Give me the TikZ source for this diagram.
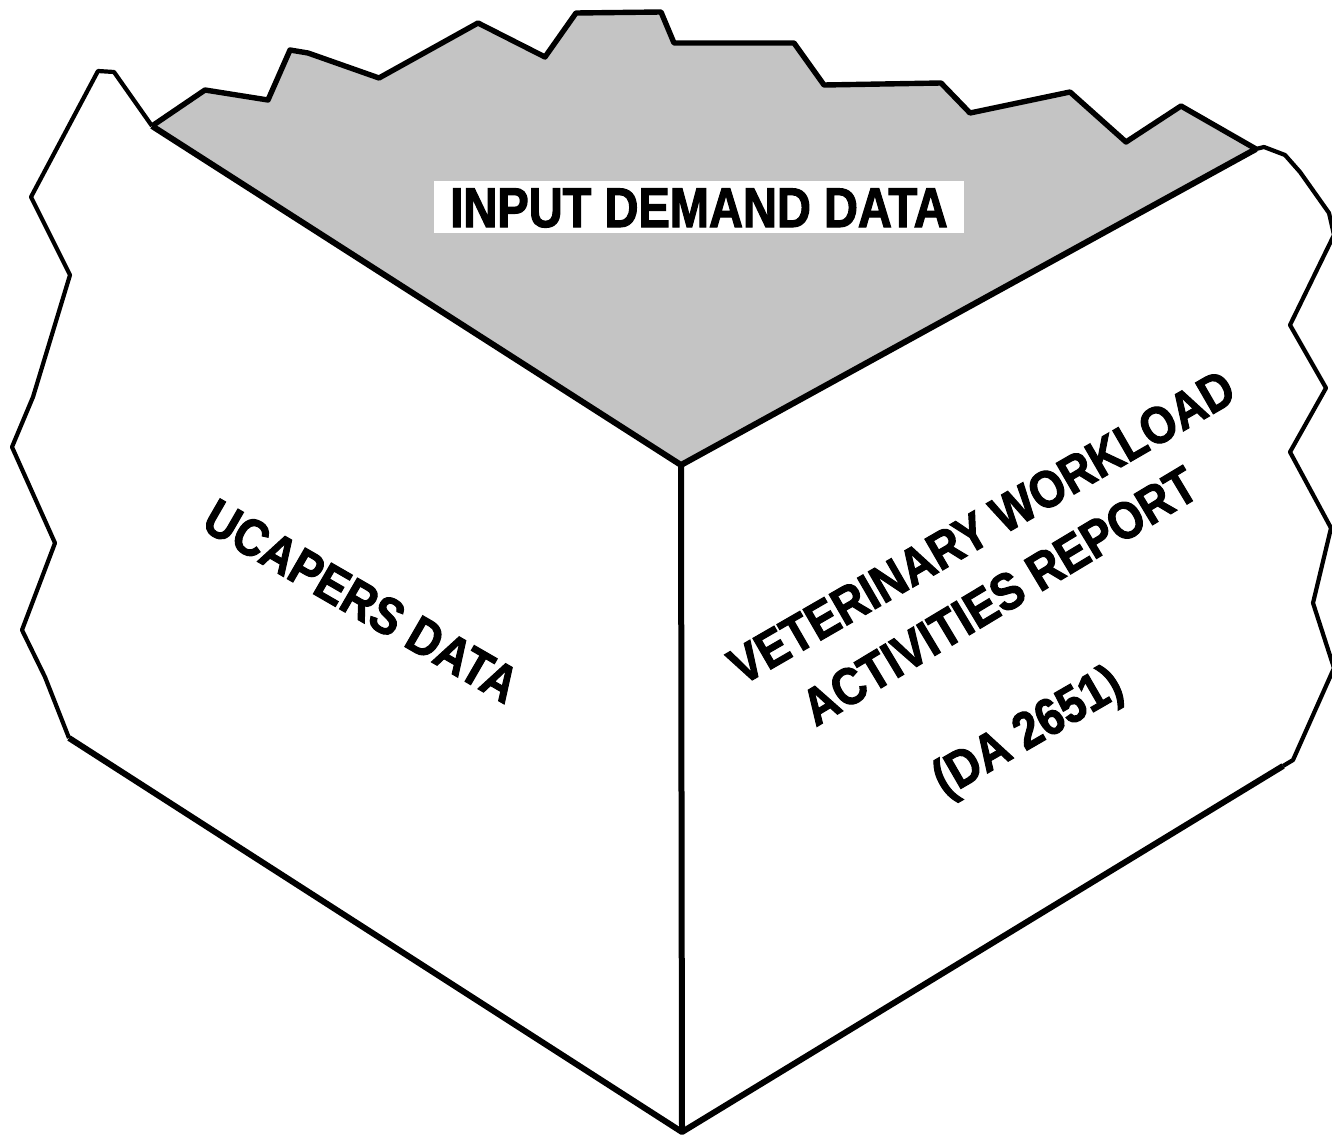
\documentclass[tikz,border=0pt]{standalone}
\usepackage{fontspec}
\setmainfont{Liberation Sans}[FakeStretch=0.84,FakeBold=2]
\newfontfamily\sidefont{Liberation Sans}[FakeStretch=0.87,FakeBold=2]
\definecolor{screen}{gray}{0.77}
\tikzset{
  facelabel/.style={font=\fontsize{28}{34}\selectfont\bfseries,inner sep=0pt,text height=20pt,text depth=0pt,align=center},
  sidelabel/.style={facelabel,font=\sidefont\fontsize{26}{32}\selectfont\bfseries,text height=19pt},
  rimline/.style={line width=2.1pt,line join=round},
  foldline/.style={line width=3pt,line join=round}
}
\begin{document}
\begin{tikzpicture}[x=0.5pt,y=-0.5pt]
    \useasboundingbox (0,0) rectangle (1332,1135);
    \coordinate (apex) at (681,465);
    \coordinate (foot) at (682,1132);
    \coordinate (L) at (152,126);
    \coordinate (R) at (1256,149);
    % shaded top face
    \fill[screen] (L) -- (205,90) -- (268,100) -- (290,50) -- (308,53) -- (379,78) -- (478,23) -- (545,57) -- (576,13) -- (661,12) -- (674,43) -- (794,43) -- (824,85) -- (941,83) -- (970,113) -- (1070,92) -- (1126,142) -- (1181,106) -- (R) -- (apex) -- cycle;
    \draw[line width=2.7pt,line join=round] (L) -- (205,90) -- (268,100) -- (290,50) -- (308,53) -- (379,78) -- (478,23) -- (545,57) -- (576,13) -- (661,12) -- (674,43) -- (794,43) -- (824,85) -- (941,83) -- (970,113) -- (1070,92) -- (1126,142) -- (1181,106) -- (R);
    % torn sides
    \draw[rimline] (L) -- (114,72) -- (98,71) -- (31,197) -- (70,275) -- (33,397) -- (12,447) -- (55,543) -- (22,630) -- (45,677) -- (69,738);
    \draw[rimline] (R) -- (1264,147) -- (1285,155) -- (1300,172) -- (1329,213) -- (1334,235) -- (1290,325) -- (1326,388) -- (1290,452) -- (1331,528) -- (1313,603) -- (1334,668) -- (1293,760) -- (1283,766);
    % folds
    \draw[foldline] (L) -- (apex) -- (R);
    \draw[foldline] (apex) -- (foot);
    \draw[foldline] (69,738) -- (foot) -- (1283,766);
    % labels
    \node[facelabel,fill=white,inner xsep=8pt,inner ysep=3pt] (top) at (699,207) {INPUT DEMAND DATA};
    \node[sidelabel,rotate=-30] (ucapers) at (362,600) {UCAPERS DATA};
    \node[sidelabel,rotate=30] (vet) at (981,526) {VETERINARY WORKLOAD};
    \node[sidelabel,rotate=31] (act) at (999,595) {ACTIVITIES REPORT};
    \node[sidelabel,rotate=30] (form) at (1026,729) {(DA 2651)};
\end{tikzpicture}
\end{document}
